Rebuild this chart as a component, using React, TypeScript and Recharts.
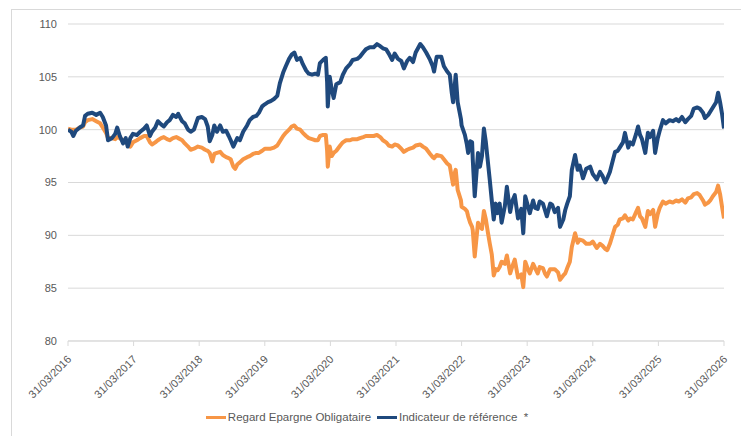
import React from "react";
import { CartesianGrid, Legend, Line, LineChart, XAxis, YAxis } from "recharts";

// dates as decimal years (31/03/2016 = 2016.25)
const dates = [
  2016.25, 2016.30, 2016.33, 2016.37, 2016.43, 2016.48, 2016.51, 2016.55, 2016.62, 2016.68,
  2016.74, 2016.78, 2016.83, 2016.86, 2016.92, 2016.97, 2017.00, 2017.04, 2017.09, 2017.13,
  2017.16, 2017.20, 2017.24, 2017.30, 2017.35, 2017.41, 2017.45, 2017.50, 2017.53, 2017.58,
  2017.62, 2017.67, 2017.71, 2017.76, 2017.80, 2017.85, 2017.90, 2017.93, 2017.99, 2018.03,
  2018.08, 2018.12, 2018.17, 2018.23, 2018.29, 2018.34, 2018.38, 2018.41, 2018.45, 2018.48,
  2018.52, 2018.57, 2018.61, 2018.66, 2018.70, 2018.73, 2018.77, 2018.80, 2018.83, 2018.87,
  2018.92, 2018.98, 2019.02, 2019.07, 2019.12, 2019.16, 2019.21, 2019.25, 2019.30, 2019.34,
  2019.39, 2019.44, 2019.48, 2019.53, 2019.57, 2019.62, 2019.66, 2019.70, 2019.74, 2019.79,
  2019.83, 2019.88, 2019.92, 2019.97, 2020.02, 2020.06, 2020.09, 2020.14, 2020.18, 2020.20,
  2020.21, 2020.24, 2020.27, 2020.30, 2020.34, 2020.40, 2020.44, 2020.49, 2020.55, 2020.59,
  2020.66, 2020.70, 2020.75, 2020.79, 2020.85, 2020.91, 2020.96, 2021.01, 2021.05, 2021.10,
  2021.14, 2021.19, 2021.23, 2021.28, 2021.33, 2021.37, 2021.42, 2021.46, 2021.51, 2021.55,
  2021.62, 2021.66, 2021.71, 2021.77, 2021.81, 2021.83, 2021.87, 2021.94, 2021.98, 2022.03,
  2022.07, 2022.10, 2022.12, 2022.15, 2022.16, 2022.19, 2022.24, 2022.25, 2022.30, 2022.33,
  2022.35, 2022.38, 2022.41, 2022.42, 2022.45, 2022.50, 2022.53, 2022.56, 2022.59, 2022.62,
  2022.65, 2022.68, 2022.71, 2022.74, 2022.77, 2022.80, 2022.83, 2022.86, 2022.91, 2022.94,
  2022.99, 2023.02, 2023.06, 2023.11, 2023.16, 2023.19, 2023.22, 2023.26, 2023.29, 2023.34,
  2023.37, 2023.41, 2023.44, 2023.49, 2023.52, 2023.55, 2023.60, 2023.63, 2023.67, 2023.72,
  2023.75, 2023.80, 2023.83, 2023.86, 2023.90, 2023.93, 2023.98, 2024.02, 2024.05, 2024.10,
  2024.15, 2024.21, 2024.25, 2024.31, 2024.36, 2024.40, 2024.44, 2024.47, 2024.51, 2024.56,
  2024.59, 2024.63, 2024.66, 2024.71, 2024.74, 2024.79, 2024.82, 2024.86, 2024.91, 2024.94,
  2024.97, 2025.00, 2025.05, 2025.09, 2025.12, 2025.17, 2025.20, 2025.24, 2025.27, 2025.32,
  2025.36, 2025.42, 2025.47, 2025.52, 2025.56, 2025.61, 2025.66, 2025.70, 2025.75, 2025.79,
  2025.84, 2025.88, 2025.93, 2025.96, 2026.01, 2026.04, 2026.08, 2026.13, 2026.16, 2026.19,
  2026.22, 2026.25,
];

// Regard Epargne Obligataire
const regard = [
  100.1, 100.0, 100.0, 100.0, 100.2, 100.3, 100.7, 100.9, 101.0, 100.8,
  100.6, 100.2, 99.7, 99.2, 99.2, 99.1, 99.3, 99.2, 99.0, 98.9,
  98.6, 98.4, 98.8, 99.0, 99.2, 99.4, 99.4, 98.8, 98.6, 98.8,
  99.0, 99.2, 99.3, 99.1, 99.0, 99.2, 99.3, 99.2, 99.0, 98.7,
  98.4, 98.1, 98.2, 98.4, 98.3, 98.1, 98.0, 97.8, 97.0, 97.7,
  97.8, 97.9, 97.6, 97.4, 97.3, 97.2, 96.5, 96.3, 96.7, 96.9,
  97.2, 97.4, 97.5, 97.7, 97.8, 97.8, 98.0, 98.2, 98.2, 98.2,
  98.3, 98.5, 98.9, 99.4, 99.7, 100.0, 100.3, 100.4, 100.1, 100.0,
  99.7, 99.4, 99.2, 99.1, 99.0, 99.0, 99.4, 99.5, 99.5, 98.0,
  96.5, 98.4, 97.5, 97.8, 98.0, 98.5, 98.8, 99.0, 99.0, 99.1,
  99.1, 99.2, 99.3, 99.4, 99.4, 99.4, 99.5, 99.3, 99.0, 98.8,
  98.5, 98.4, 98.6, 98.5, 98.2, 97.9, 98.1, 98.2, 98.3, 98.5,
  98.6, 98.4, 98.2, 97.7, 97.4, 97.3, 97.6, 97.5, 97.2, 96.8,
  96.6, 95.5, 94.8, 96.0, 96.2, 94.3, 93.3, 92.7, 92.5, 92.3,
  91.8, 91.2, 90.8, 90.5, 88.0, 91.2, 90.8, 90.6, 92.3, 91.5,
  90.3, 89.2, 88.2, 86.2, 86.8, 86.7, 87.0, 87.5, 87.3, 88.1,
  86.4, 87.0, 87.7, 86.0, 86.3, 85.1, 87.5, 86.8, 86.4, 87.3,
  86.9, 86.4, 87.0, 86.9, 86.4, 86.1, 86.8, 86.8, 86.8, 86.5,
  85.8, 86.2, 86.4, 86.9, 87.5, 88.9, 90.2, 89.3, 89.6, 89.5,
  89.2, 89.2, 89.4, 88.8, 89.2, 89.0, 88.7, 88.6, 89.2, 90.2,
  90.8, 91.0, 91.5, 91.6, 91.9, 91.4, 91.6, 91.5, 92.2, 92.6,
  91.8, 91.6, 90.8, 92.3, 92.0, 92.4, 90.8, 92.0, 92.6, 93.2,
  93.0, 93.2, 93.1, 93.3, 93.2, 93.4, 93.1, 93.5, 93.6, 93.9,
  94.0, 93.8, 93.3, 92.9, 93.1, 93.3, 93.7, 94.1, 94.7, 93.9,
  92.7, 91.6,
];

// Indicateur de référence
const indicateur = [
  100.0, 99.8, 99.4, 99.9, 100.2, 100.4, 101.3, 101.5, 101.6, 101.4,
  101.6, 101.2, 100.4, 99.0, 99.2, 99.6, 100.2, 99.4, 98.7, 99.2,
  98.4, 99.2, 99.6, 99.5, 99.8, 100.1, 100.4, 99.4, 99.8, 100.2,
  100.8, 100.5, 100.3, 100.7, 100.9, 101.4, 101.2, 101.5, 100.8, 100.6,
  100.0, 99.8, 100.0, 101.1, 101.2, 101.0, 100.3, 98.9, 99.5, 100.4,
  99.8, 100.4, 99.8, 99.9, 99.4, 99.0, 98.4, 98.8, 99.2, 99.0,
  99.8, 100.4, 100.9, 101.2, 101.3, 101.6, 102.2, 102.4, 102.6, 102.7,
  102.9, 103.2, 104.4, 105.4, 106.0, 106.7, 107.1, 107.3, 106.6, 106.8,
  106.2, 105.6, 105.3, 105.2, 105.3, 105.2, 106.3, 106.6, 106.8, 104.5,
  102.2, 105.0, 103.8, 103.0, 104.3, 104.5, 105.2, 105.8, 106.2, 106.6,
  106.7, 106.9, 107.3, 107.6, 107.8, 107.8, 108.1, 107.9, 107.7, 107.6,
  107.2, 106.6, 107.2, 106.7, 106.5, 105.8, 106.5, 106.8, 106.4, 107.3,
  108.1, 107.8, 107.3, 106.6, 106.0, 105.5, 106.9, 106.9, 106.0, 105.5,
  105.2, 103.5, 102.6, 104.5, 105.2, 102.6, 101.0, 100.4, 99.5, 98.6,
  97.8, 98.9, 98.8, 97.2, 93.7, 97.8, 96.5, 97.5, 100.1, 98.8,
  97.0, 95.2, 93.3, 91.5, 93.0, 92.1, 93.0, 91.2, 92.8, 94.6,
  92.2, 93.2, 93.8, 91.6, 92.5, 90.2, 93.7, 92.8, 92.1, 93.3,
  92.6, 92.5, 93.2, 93.0, 92.4, 91.8, 93.0, 92.9, 92.2, 92.6,
  90.8, 91.5, 92.4, 93.0, 93.7, 96.2, 97.6, 96.2, 96.6, 95.4,
  96.3, 96.5, 95.8, 95.3, 96.0, 95.6, 95.0, 95.4, 96.0, 97.2,
  97.9, 98.0, 98.3, 98.8, 99.7, 98.3, 98.8, 98.6, 99.6, 100.3,
  99.5, 99.1, 97.8, 99.7, 99.3, 99.9, 97.8, 99.2, 99.9, 100.9,
  100.6, 100.9, 100.8, 101.0, 100.8, 101.2, 100.7, 101.0, 101.3, 102.0,
  102.1, 102.0, 101.6, 101.1, 101.4, 101.7, 102.1, 102.6, 103.5, 102.6,
  101.5, 100.1,
];

const tickYears = [2016.25, 2017.25, 2018.25, 2019.25, 2020.25, 2021.25, 2022.25, 2023.25, 2024.25, 2025.25, 2026.25];
const tickLabels = [
  "31/03/2016", "31/03/2017", "31/03/2018", "31/03/2019", "31/03/2020", "31/03/2021",
  "31/03/2022", "31/03/2023", "31/03/2024", "31/03/2025", "31/03/2026",
];
const yTicks = [80, 85, 90, 95, 100, 105, 110];

const ORANGE = "#F79646";
const BLUE = "#1F497D";
const FONT = '"Liberation Sans", Arial, sans-serif';

const data = dates.map((t, i) => ({ t, regard: regard[i], indicateur: indicateur[i] }));

function DateTick({ x, y, payload }: any) {
  const idx = tickYears.findIndex((v) => Math.abs(v - payload.value) < 0.001);
  const label = idx >= 0 ? tickLabels[idx] : "";
  return (
    <text
      x={x + 4}
      y={y + 12}
      transform={`rotate(-45, ${x + 4}, ${y + 12})`}
      textAnchor="end"
      fill="#595959"
      fontSize={11}
      fontFamily={FONT}
    >
      {label}
    </text>
  );
}

function LegendBox() {
  const items = [
    { name: "Regard Epargne Obligataire", color: ORANGE },
    { name: "Indicateur de référence  *", color: BLUE },
  ];
  return (
    <div style={{ display: "flex", justifyContent: "center", alignItems: "center", gap: 6 }}>
      {items.map((it) => (
        <div key={it.name} style={{ display: "flex", alignItems: "center" }}>
          <div style={{ width: 20, height: 3, background: it.color, marginRight: 2 }} />
          <span style={{ fontFamily: FONT, fontSize: 11.5, color: "#595959", whiteSpace: "pre" }}>{it.name}</span>
        </div>
      ))}
    </div>
  );
}

export default function App() {
  return (
    <div style={{ position: "absolute", left: 0, top: 0, width: 741, height: 436, overflow: "hidden", background: "#fff" }}>
      <div style={{ position: "absolute", left: 11, top: 9, width: 760, height: 460, border: "1px solid #d9d9d9" }} />
      <LineChart
        width={741}
        height={436}
        data={data}
        margin={{ top: 24, right: 17, left: 10, bottom: 5 }}
        style={{ position: "absolute", left: 0, top: 0 }}
      >
        <CartesianGrid vertical={false} stroke="#d9d9d9" />
        <XAxis
          dataKey="t"
          type="number"
          domain={[2016.25, 2026.25]}
          ticks={tickYears}
          interval={0}
          height={70}
          tick={<DateTick />}
          axisLine={{ stroke: "#d9d9d9" }}
          tickLine={{ stroke: "#d9d9d9" }}
          tickSize={5}
          allowDataOverflow
        />
        <YAxis
          domain={[80, 110]}
          ticks={yTicks}
          width={58}
          axisLine={false}
          tickLine={false}
          tickMargin={5}
          tick={{ fill: "#595959", fontSize: 11, fontFamily: FONT }}
        />
        <Legend verticalAlign="bottom" height={20} content={<LegendBox />} />
        <Line
          type="linear"
          dataKey="regard"
          name="Regard Epargne Obligataire"
          stroke={ORANGE}
          strokeWidth={4}
          dot={false}
          strokeLinejoin="round"
          isAnimationActive={false}
        />
        <Line
          type="linear"
          dataKey="indicateur"
          name="Indicateur de référence  *"
          stroke={BLUE}
          strokeWidth={4}
          dot={false}
          strokeLinejoin="round"
          isAnimationActive={false}
        />
      </LineChart>
    </div>
  );
}
